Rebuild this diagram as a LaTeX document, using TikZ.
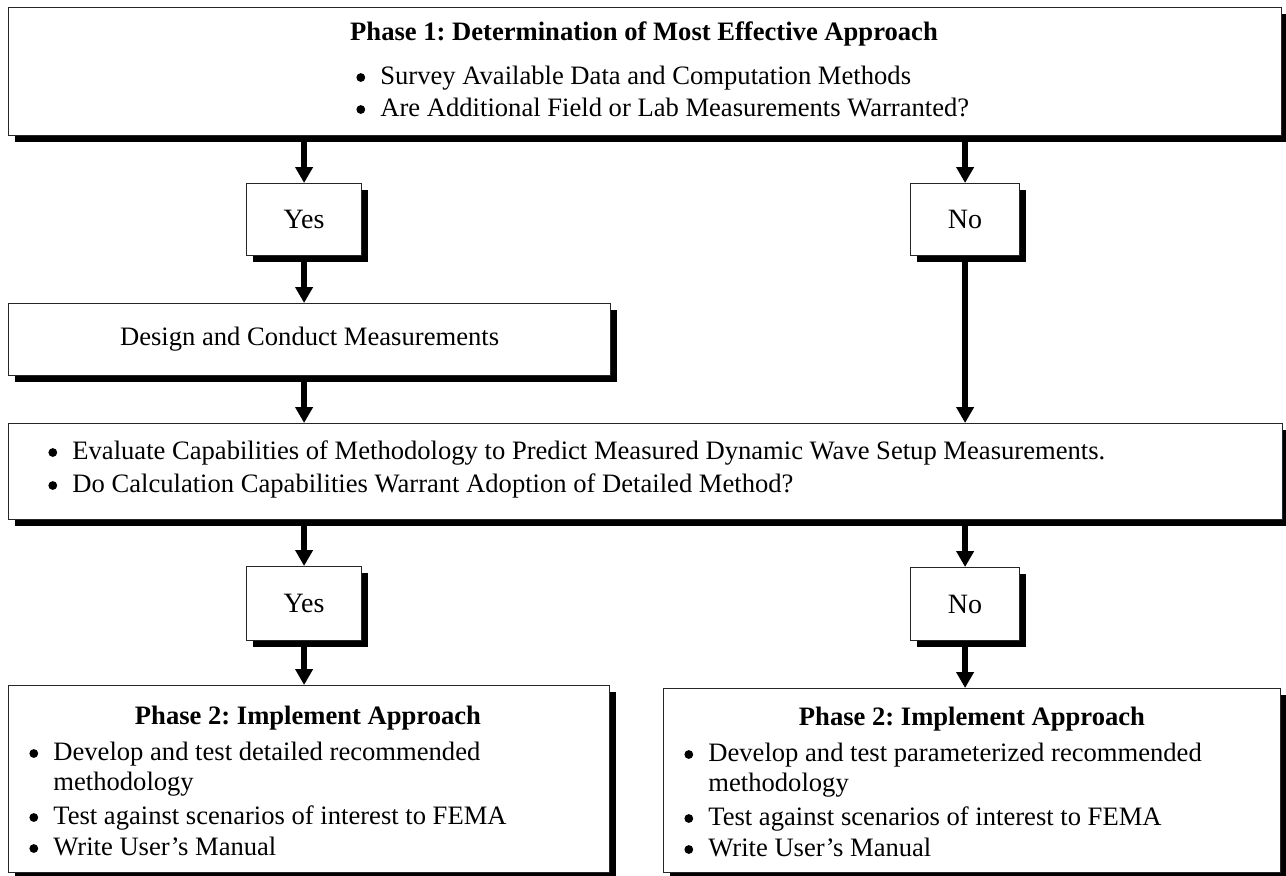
\documentclass[tikz,border=0pt]{standalone}
\usepackage{fontspec}
\setmainfont{Liberation Serif}
\usetikzlibrary{arrows.meta,shadows}
\begin{document}
\frenchspacing
\begin{tikzpicture}[x=0.5pt,y=-0.5pt,
  box/.style={draw=black!85, line width=0.6pt, fill=white, inner sep=0pt, anchor=north west,
    font=\fontsize{13.3pt}{16pt}\selectfont,
    drop shadow={shadow xshift=3pt, shadow yshift=-3pt, fill=black, opacity=1}},
  yn/.style={box, font=\fontsize{14pt}{16pt}\selectfont},
  ln/.style={anchor=west, inner sep=0pt, text height=0.7em, text depth=0.25em, font=\fontsize{13.3pt}{16pt}\selectfont},
  ttl/.style={anchor=center, inner sep=0pt, text height=0.7em, text depth=0.25em, font=\fontsize{13.3pt}{16pt}\selectfont\bfseries},
  arr/.style={line width=3pt, -{Triangle[length=8pt,width=8.5pt]}}]
\newcommand{\bl}{\makebox[12pt][l]{\tikz[baseline=0pt]\fill (2.2pt,3.5pt) circle[radius=2.2pt];}}
\useasboundingbox (0,0) rectangle (1286,875);
% boxes
\node[box, minimum width=636.5pt, minimum height=64pt] (top) at (8,7) {};
\node[yn, minimum width=57.5pt, minimum height=36pt] (yes1) at (246,183) {Yes};
\node[yn, minimum width=54.5pt, minimum height=36pt] (no1) at (910,183) {No};
\node[box, minimum width=301pt, minimum height=36pt] (design) at (8,303) {Design and Conduct Measurements};
\node[box, minimum width=637pt, minimum height=48pt] (eval) at (8,423) {};
\node[yn, minimum width=57.5pt, minimum height=37pt] (yes2) at (246,566) {Yes};
\node[yn, minimum width=54.5pt, minimum height=36.5pt] (no2) at (910,567) {No};
\node[box, minimum width=300.5pt, minimum height=93.5pt] (botL) at (8,685) {};
\node[box, minimum width=308.5pt, minimum height=92pt] (botR) at (663,688) {};
% texts top
\node[ttl] (t1) at (644,36) {Phase 1: Determination of Most Effective Approach};
\node[ln] (t2) at (356,80) {\bl Survey Available Data and Computation Methods};
\node[ln] (t3) at (356,112) {\bl Are Additional Field or Lab Measurements Warranted?};
% evaluate
\node[ln] (e1) at (48,455) {\bl Evaluate Capabilities of Methodology to Predict Measured Dynamic Wave Setup Measurements.};
\node[ln] (e2) at (48,488) {\bl Do Calculation Capabilities Warrant Adoption of Detailed Method?};
% bottom left
\node[ttl] (l0) at (308,720) {Phase 2: Implement Approach};
\node[ln] (l1) at (29,756) {\bl Develop and test detailed recommended};
\node[ln] (l2) at (53,786) {methodology};
\node[ln] (l3) at (29,820) {\bl Test against scenarios of interest to FEMA};
\node[ln] (l4) at (29,851) {\bl Write User’s Manual};
% bottom right
\node[ttl] (r0) at (972,721) {Phase 2: Implement Approach};
\node[ln] (r1) at (684,757) {\bl Develop and test parameterized recommended};
\node[ln] (r2) at (708,787) {methodology};
\node[ln] (r3) at (684,821) {\bl Test against scenarios of interest to FEMA};
\node[ln] (r4) at (684,852) {\bl Write User’s Manual};
% arrows
\draw[arr] (top.south -| yes1.north) -- (yes1.north);
\draw[arr] (top.south -| no1.north) -- (no1.north);
\draw[arr] (yes1.south) -- (yes1.south |- design.north);
\draw[arr] (design.south -| yes1.south) -- (yes1.south |- eval.north);
\draw[arr] (no1.south) -- (no1.south |- eval.north);
\draw[arr] (eval.south -| yes2.north) -- (yes2.north);
\draw[arr] (eval.south -| no2.north) -- (no2.north);
\draw[arr] (yes2.south) -- (yes2.south |- botL.north);
\draw[arr] (no2.south) -- (no2.south |- botR.north);
\end{tikzpicture}
\end{document}
